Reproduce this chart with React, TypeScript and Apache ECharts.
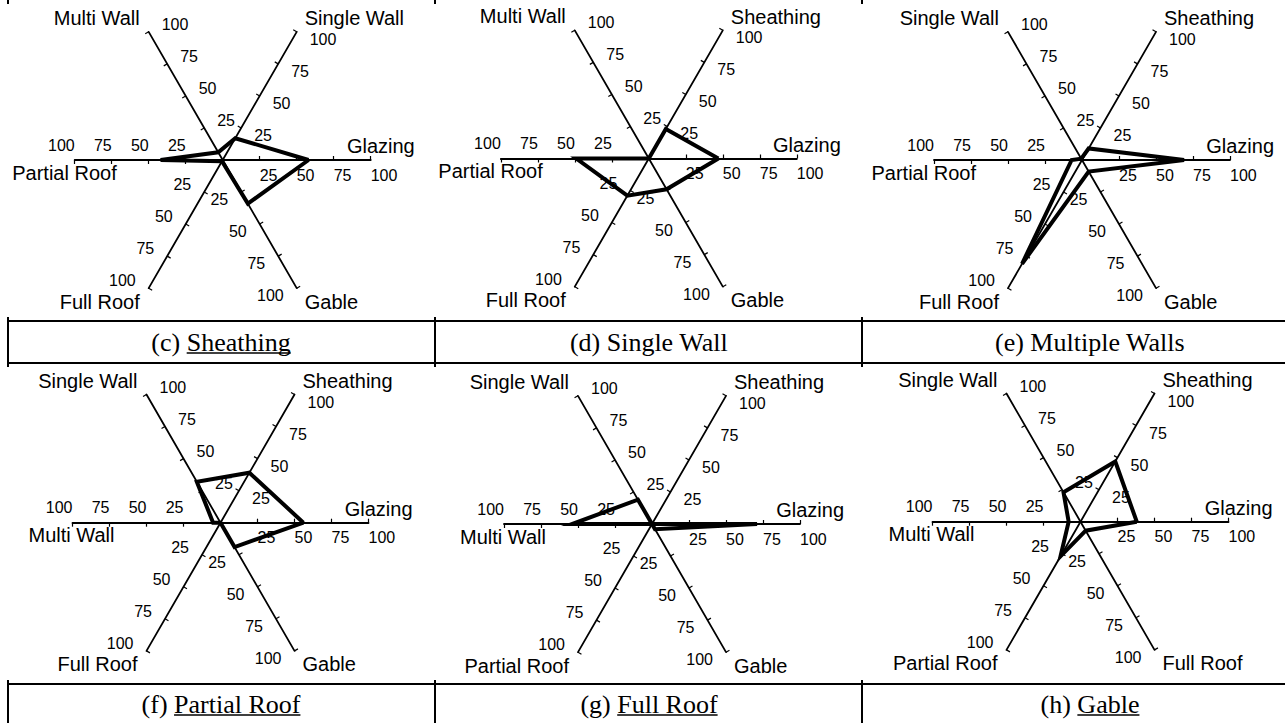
import React, { useEffect, useRef } from 'react';
import * as echarts from 'echarts';

// ---------- data ----------
const axesC = ['Glazing', 'Single Wall', 'Multi Wall', 'Partial Roof', 'Full Roof', 'Gable'];
const valuesC = [58, 17, 6, 42, 1, 34];
const axesD = ['Glazing', 'Sheathing', 'Multi Wall', 'Partial Roof', 'Full Roof', 'Gable'];
const valuesD = [47, 23, 0, 49, 29, 24];
const axesE = ['Glazing', 'Sheathing', 'Single Wall', 'Partial Roof', 'Full Roof', 'Gable'];
const valuesE = [69, 9, 1, 7, 81, 9];
const axesF = ['Glazing', 'Sheathing', 'Single Wall', 'Multi Wall', 'Full Roof', 'Gable'];
const valuesF = [56, 39, 32, 5, 0, 19];
const axesG = ['Glazing', 'Sheathing', 'Single Wall', 'Multi Wall', 'Partial Roof', 'Gable'];
const valuesG = [71, 0, 19, 54, 0, 4];
const axesH = ['Glazing', 'Sheathing', 'Single Wall', 'Multi Wall', 'Partial Roof', 'Full Roof'];
const valuesH = [38, 47, 23, 8, 27, 7];

const captionPrefixes = ['(c) ', '(d) ', '(e) ', '(f) ', '(g) ', '(h) '];
const captionWords = ['Sheathing', 'Single Wall', 'Multiple Walls', 'Partial Roof', 'Full Roof', 'Gable'];
const captionUnderlined = [true, false, false, true, true, true];

const axisMin = 0;
const axisMax = 100;
const axisSplits = 4;

// ---------- layout ----------
const W = 1285;
const H = 723;
const R = 148;
const centers: [number, number][] = [
  [222.7, 160], [648.8, 158.5], [1082, 160],
  [220.5, 522.7], [652, 524], [1080.5, 521.7],
];
const colCaptionX = [221, 649, 1090];
const rowCaptionY = [342, 704];
const vLinesX = [8, 435, 862];
const hLinesY = [321, 363, 684];

const SANS = '"Liberation Sans", Arial, Helvetica, sans-serif';
const SERIF = '"Liberation Serif", "Times New Roman", Times, serif';
const CAPTION_SIZE = 26;

const charts = [
  { axes: axesC, values: valuesC },
  { axes: axesD, values: valuesD },
  { axes: axesE, values: valuesE },
  { axes: axesF, values: valuesF },
  { axes: axesG, values: valuesG },
  { axes: axesH, values: valuesH },
];

// name placement relative to axis end, per angular slot (0°,60°,...,300°)
const namePlace = [
  { dx: 44, dy: -14, align: 'right' },
  { dx: 8, dy: -13.5, align: 'left' },
  { dx: -9, dy: -14, align: 'right' },
  { dx: 42, dy: 12.5, align: 'right' },
  { dx: -9, dy: 13.5, align: 'right' },
  { dx: 8, dy: 13.5, align: 'left' },
];

export default function App() {
  const ref = useRef<HTMLDivElement>(null);

  useEffect(() => {
    if (!ref.current) return;
    const chart = echarts.init(ref.current, undefined, { renderer: 'svg', width: W, height: H });

    const radar = charts.map((c, i) => ({
      center: centers[i],
      radius: R,
      startAngle: 0,
      splitNumber: axisSplits,
      shape: 'polygon',
      axisName: { show: false },
      splitLine: { show: false },
      splitArea: { show: false },
      axisLine: { lineStyle: { color: '#000', width: 1.8 } },
      axisTick: { show: true, length: 4, lineStyle: { color: '#000', width: 1.2 } },
      axisLabel: {
        show: true,
        fontSize: 16,
        color: '#000',
        fontFamily: SANS,
        showMinLabel: false,
        formatter: (v: number) => (v === 0 ? '' : String(v)),
      },
      indicator: c.axes.map((name, k) => ({
        name,
        min: axisMin,
        max: axisMax,
        axisLabel: { margin: -15, align: k < 3 ? 'left' : 'right', verticalAlign: 'middle' },
      })),
    }));

    const series = charts.map((c, i) => ({
      type: 'radar',
      radarIndex: i,
      symbol: 'none',
      silent: true,
      z: 5,
      lineStyle: { color: '#000', width: 4, join: 'miter', miterLimit: 6 },
      data: [{ value: c.values, name: captionWords[i] }],
    }));

    const graphics: any[] = [];
    // axis names
    charts.forEach((c, i) => {
      const [cx, cy] = centers[i];
      c.axes.forEach((name, k) => {
        const a = (k * 60 * Math.PI) / 180;
        const ex = cx + R * Math.cos(a);
        const ey = cy - R * Math.sin(a);
        const p = namePlace[k];
        graphics.push({
          type: 'text',
          x: ex + p.dx,
          y: ey + p.dy,
          silent: true,
          style: {
            text: name,
            fontSize: 20,
            fontFamily: SANS,
            fill: '#000',
            align: p.align,
            verticalAlign: 'middle',
          },
        });
      });
    });

    // table lines
    hLinesY.forEach((y) => {
      graphics.push({
        type: 'line', silent: true,
        shape: { x1: vLinesX[0] - 1, y1: y, x2: W, y2: y },
        style: { stroke: '#000', lineWidth: 2 },
      });
    });
    vLinesX.forEach((x) => {
      [[0, 4], [317, 367], [680, H]].forEach(([y1, y2]) => {
        graphics.push({
          type: 'line', silent: true,
          shape: { x1: x, y1, x2: x, y2 },
          style: { stroke: '#000', lineWidth: 2 },
        });
      });
    });

    // captions
    const canvas = document.createElement('canvas');
    const ctx = canvas.getContext('2d')!;
    ctx.font = CAPTION_SIZE + 'px ' + SERIF;
    captionPrefixes.forEach((pre, i) => {
      const cx = colCaptionX[i % 3];
      const cy = rowCaptionY[Math.floor(i / 3)];
      const word = captionWords[i];
      const wPre = ctx.measureText(pre).width;
      const wWord = ctx.measureText(word).width;
      const total = wPre + wWord;
      const left = cx - total / 2;
      graphics.push({
        type: 'text', silent: true, x: left, y: cy,
        style: { text: pre + word, fontSize: CAPTION_SIZE, fontFamily: SERIF, fill: '#000', align: 'left', verticalAlign: 'middle' },
      });
      if (captionUnderlined[i]) {
        graphics.push({
          type: 'line', silent: true,
          shape: { x1: left + wPre, y1: cy + 11, x2: left + total, y2: cy + 11 },
          style: { stroke: '#000', lineWidth: 1.3 },
        });
      }
    });

    chart.setOption({
      animation: false,
      backgroundColor: '#fff',
      radar,
      series,
      graphic: { elements: graphics },
    } as any);

    return () => chart.dispose();
  }, []);

  return (
    <div
      ref={ref}
      style={{ position: 'fixed', left: 0, top: 0, width: W, height: H, background: '#fff' }}
    />
  );
}
